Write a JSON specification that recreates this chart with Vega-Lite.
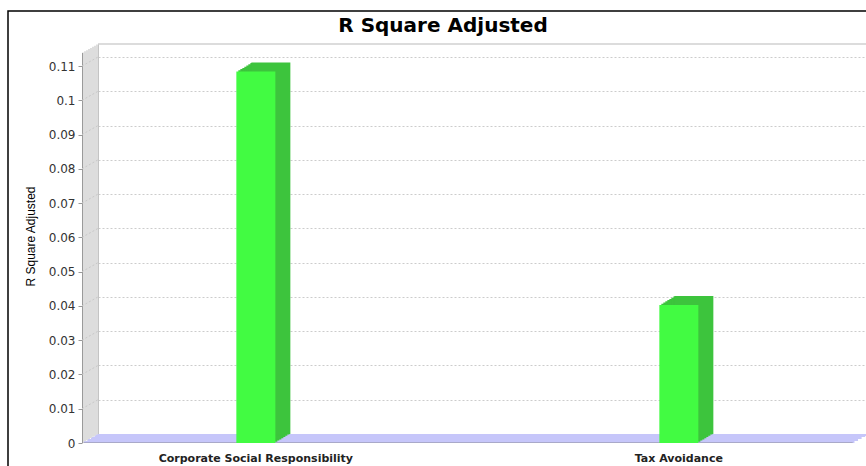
{
  "$schema": "https://vega.github.io/schema/vega-lite/v6.json",
  "width": 870,
  "height": 465,
  "autosize": {"type": "none"},
  "padding": {"left": 8, "top": 11, "right": -12, "bottom": -10},
  "background": "white",
  "title": {"text": "R Square Adjusted", "font": "DejaVu Sans", "fontSize": 20, "fontWeight": "bold", "color": "#000000", "anchor": "middle", "frame": "group", "baseline": "alphabetic", "offset": -40.5},
  "config": {"view": {"stroke": "#000000", "strokeWidth": 1.5}},
  "resolve": {"scale": {"x": "independent", "y": "independent"}},
  "layer": [
    {
      "data": {"values": [{}]},
      "encoding": {
        "x": {"datum": 0, "type": "quantitative", "scale": {"domain": [0, 1], "range": [74, 844.7], "zero": false, "nice": false}, "axis": null},
        "x2": {"datum": 1},
        "y": {"datum": 0, "type": "quantitative", "scale": {"domain": [0, 0.1138], "range": [432, 42], "zero": false, "nice": false}, "axis": null}
      },
      "layer": [
        {"mark": {"type": "rule", "color": "#c6c6fa", "strokeWidth": 2, "yOffset": -1, "xOffset": 1.78, "x2Offset": 1.78}},
        {"mark": {"type": "rule", "color": "#c6c6fa", "strokeWidth": 2, "yOffset": -3, "xOffset": 5.33, "x2Offset": 5.33}},
        {"mark": {"type": "rule", "color": "#c6c6fa", "strokeWidth": 2, "yOffset": -5, "xOffset": 8.89, "x2Offset": 8.89}},
        {"mark": {"type": "rule", "color": "#c6c6fa", "strokeWidth": 2, "yOffset": -7, "xOffset": 12.44, "x2Offset": 12.44}},
        {"mark": {"type": "rule", "color": "#c6c6fa", "strokeWidth": 2, "yOffset": -8, "xOffset": 14.22, "x2Offset": 14.22}},
        {"mark": {"type": "rule", "color": "#a9a9c9", "strokeWidth": 1, "yOffset": -0.5}}
      ]
    },
    {
      "data": {"values": [{}]},
      "encoding": {
        "x": {"datum": 0, "type": "quantitative", "scale": {"domain": [0, 1], "range": [74, 844.7], "zero": false, "nice": false}, "axis": null},
        "y": {"datum": 0, "type": "quantitative", "scale": {"domain": [0, 0.1138], "range": [432, 42], "zero": false, "nice": false}, "axis": null},
        "y2": {"datum": 0.1138}
      },
      "layer": [
        {"mark": {"type": "rule", "color": "#dddddd", "strokeWidth": 2, "xOffset": 1, "yOffset": -0.56, "y2Offset": -0.56}},
        {"mark": {"type": "rule", "color": "#dddddd", "strokeWidth": 2, "xOffset": 3, "yOffset": -1.69, "y2Offset": -1.69}},
        {"mark": {"type": "rule", "color": "#dddddd", "strokeWidth": 2, "xOffset": 5, "yOffset": -2.81, "y2Offset": -2.81}},
        {"mark": {"type": "rule", "color": "#dddddd", "strokeWidth": 2, "xOffset": 7, "yOffset": -3.94, "y2Offset": -3.94}},
        {"mark": {"type": "rule", "color": "#dddddd", "strokeWidth": 2, "xOffset": 9, "yOffset": -5.06, "y2Offset": -5.06}},
        {"mark": {"type": "rule", "color": "#dddddd", "strokeWidth": 2, "xOffset": 11, "yOffset": -6.19, "y2Offset": -6.19}},
        {"mark": {"type": "rule", "color": "#dddddd", "strokeWidth": 2, "xOffset": 13, "yOffset": -7.31, "y2Offset": -7.31}},
        {"mark": {"type": "rule", "color": "#dddddd", "strokeWidth": 2, "xOffset": 15, "yOffset": -8.44, "y2Offset": -8.44}},
        {"mark": {"type": "rule", "color": "#c4c4c4", "strokeWidth": 1, "xOffset": 16.5, "yOffset": -9, "y2Offset": -9}},
        {"mark": {"type": "rule", "color": "#9a9a9a", "strokeWidth": 1, "xOffset": 0.5}}
      ]
    },
    {
      "data": {"values": [{"level": 0.01}, {"level": 0.02}, {"level": 0.03}, {"level": 0.04}, {"level": 0.05}, {"level": 0.06}, {"level": 0.07}, {"level": 0.08}, {"level": 0.09}, {"level": 0.1}, {"level": 0.11}]},
      "mark": {"type": "rule", "color": "#c8c8c8", "strokeWidth": 1, "strokeDash": [2, 2], "x2Offset": 16, "y2Offset": -9},
      "encoding": {
        "x": {"datum": 0, "type": "quantitative", "scale": {"domain": [0, 1], "range": [74, 844.7], "zero": false, "nice": false}, "axis": null},
        "x2": {"datum": 0},
        "y": {"field": "level", "type": "quantitative", "scale": {"domain": [0, 0.1138], "range": [432, 42], "zero": false, "nice": false}, "axis": null},
        "y2": {"field": "level"}
      }
    },
    {
      "data": {"values": [{}]},
      "mark": {"type": "rule", "color": "#d0d0d0", "strokeWidth": 1.5},
      "encoding": {
        "x": {"datum": 0, "type": "quantitative", "scale": {"domain": [0, 1], "range": [90, 860.7], "zero": false, "nice": false}, "axis": null},
        "x2": {"datum": 1},
        "y": {"datum": 0.1138, "type": "quantitative", "scale": {"domain": [0, 0.1138], "range": [423, 33], "zero": false, "nice": false},
          "axis": {"orient": "left", "values": [0.01, 0.02, 0.03, 0.04, 0.05, 0.06, 0.07, 0.08, 0.09, 0.1, 0.11], "grid": true, "gridDash": [2, 2], "gridColor": "#cccccc", "gridWidth": 1, "labels": false, "ticks": false, "domain": false, "title": null}}
      }
    },
    {
      "data": {"values": [
        {"category": "Corporate Social Responsibility", "value": 0.1084},
        {"category": "Tax Avoidance", "value": 0.0403}
      ]},
      "encoding": {
        "x": {"field": "category", "type": "nominal", "sort": null,
          "scale": {"range": [74, 844.7], "paddingInner": 0.9078, "paddingOuter": 0.3649, "round": false},
          "axis": {"orient": "bottom", "offset": -33, "domain": false, "ticks": false, "tickSize": 0, "grid": false, "labelPadding": 9, "labelAngle": 0, "labelFont": "DejaVu Sans", "labelFontSize": 11, "labelFontWeight": "bold", "labelColor": "#222222", "labelLimit": 0, "title": null}},
        "y": {"field": "value", "type": "quantitative",
          "scale": {"domain": [0, 0.1138], "range": [432, 42], "zero": false, "nice": false},
          "axis": {"orient": "left", "offset": -74, "values": [0, 0.01, 0.02, 0.03, 0.04, 0.05, 0.06, 0.07, 0.08, 0.09, 0.1, 0.11], "format": ".2~f", "grid": false, "domain": false, "ticks": true, "tickSize": 4, "tickColor": "#999999", "labelFont": "DejaVu Sans", "labelFontSize": 12, "labelColor": "#333333", "labelPadding": 3,
            "title": "R Square Adjusted", "titleFont": "Liberation Sans", "titleFontSize": 12, "titleFontWeight": "normal", "titleColor": "#000000", "titleAngle": 270, "titleX": -52, "titleY": 225, "titleAlign": "center", "titleBaseline": "middle"}}
      },
      "layer": [
        {"mark": {"type": "bar", "color": "#3dc43d", "xOffset": 2, "yOffset": -1.2, "y2Offset": -1.2}},
        {"mark": {"type": "bar", "color": "#3dc43d", "xOffset": 4, "yOffset": -2.4, "y2Offset": -2.4}},
        {"mark": {"type": "bar", "color": "#3dc43d", "xOffset": 6, "yOffset": -3.6, "y2Offset": -3.6}},
        {"mark": {"type": "bar", "color": "#3dc43d", "xOffset": 8, "yOffset": -4.8, "y2Offset": -4.8}},
        {"mark": {"type": "bar", "color": "#3dc43d", "xOffset": 10, "yOffset": -6, "y2Offset": -6}},
        {"mark": {"type": "bar", "color": "#3dc43d", "xOffset": 12, "yOffset": -7.2, "y2Offset": -7.2}},
        {"mark": {"type": "bar", "color": "#3dc43d", "xOffset": 14, "yOffset": -8.4, "y2Offset": -8.4}},
        {"mark": {"type": "bar", "color": "#3dc43d", "xOffset": 15, "yOffset": -9, "y2Offset": -9}},
        {"mark": {"type": "bar", "color": "#42fb42"}}
      ]
    }
  ]
}
